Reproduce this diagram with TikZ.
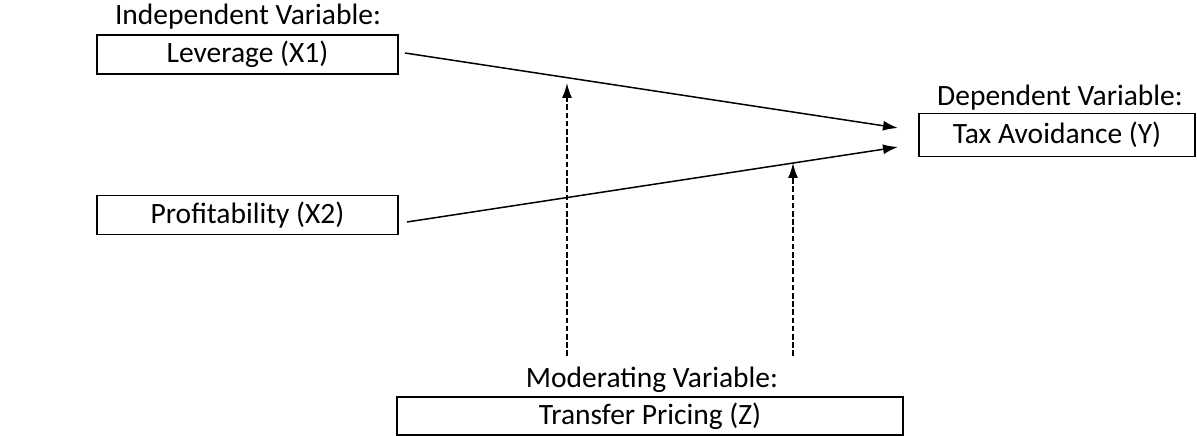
\documentclass[tikz,border=0pt]{standalone}
\usepackage{fontspec}
\setmainfont{Carlito}
\usetikzlibrary{arrows.meta}
\begin{document}
\begin{tikzpicture}[x=1bp,y=-1bp,
  box/.style={draw=black, line width=1.6bp, inner sep=0pt, font=\fontsize{29.6}{34}\selectfont},
  lbl/.style={inner sep=0pt, font=\fontsize{29.6}{34}\selectfont},
  conn/.style={line width=1.5bp, -{Latex[length=15bp,width=10bp]}},
  dconn/.style={line width=1.5bp, dash pattern=on 5.5bp off 2.7bp, -{Latex[length=15bp,width=10bp]}}]
\useasboundingbox (0,0) rectangle (1197,436);
\node[box, minimum width=301bp, minimum height=39bp] (lev) at (247.5,54.5) {Leverage (X1)};
\node[lbl] (levl) at (248,17) {Independent Variable:};
\node[box, minimum width=301bp, minimum height=39bp] (pro) at (247.5,215) {Profitability (X2)};
\node[box, minimum width=276bp, minimum height=43bp] (tax) at (1057,135) {Tax Avoidance (Y)};
\node[lbl] (taxl) at (1060,98) {Dependent Variable:};
\node[box, minimum width=506bp, minimum height=38bp] (tp) at (650,416) {Transfer Pricing (Z)};
\node[lbl] (tpl) at (652,380) {Moderating Variable:};
\coordinate (s1) at (405,53);
\coordinate (t1) at (898,128);
\coordinate (s2) at (407,222);
\coordinate (t2) at (898,147);
\coordinate (d1b) at (567,356);
\coordinate (d1t) at (567,83);
\coordinate (d2b) at (793,356);
\coordinate (d2t) at (793,163);
\draw[conn] (s1) -- (t1);
\draw[conn] (s2) -- (t2);
\draw[dconn] (d1b) -- (d1t);
\draw[dconn] (d2b) -- (d2t);
\end{tikzpicture}
\end{document}
